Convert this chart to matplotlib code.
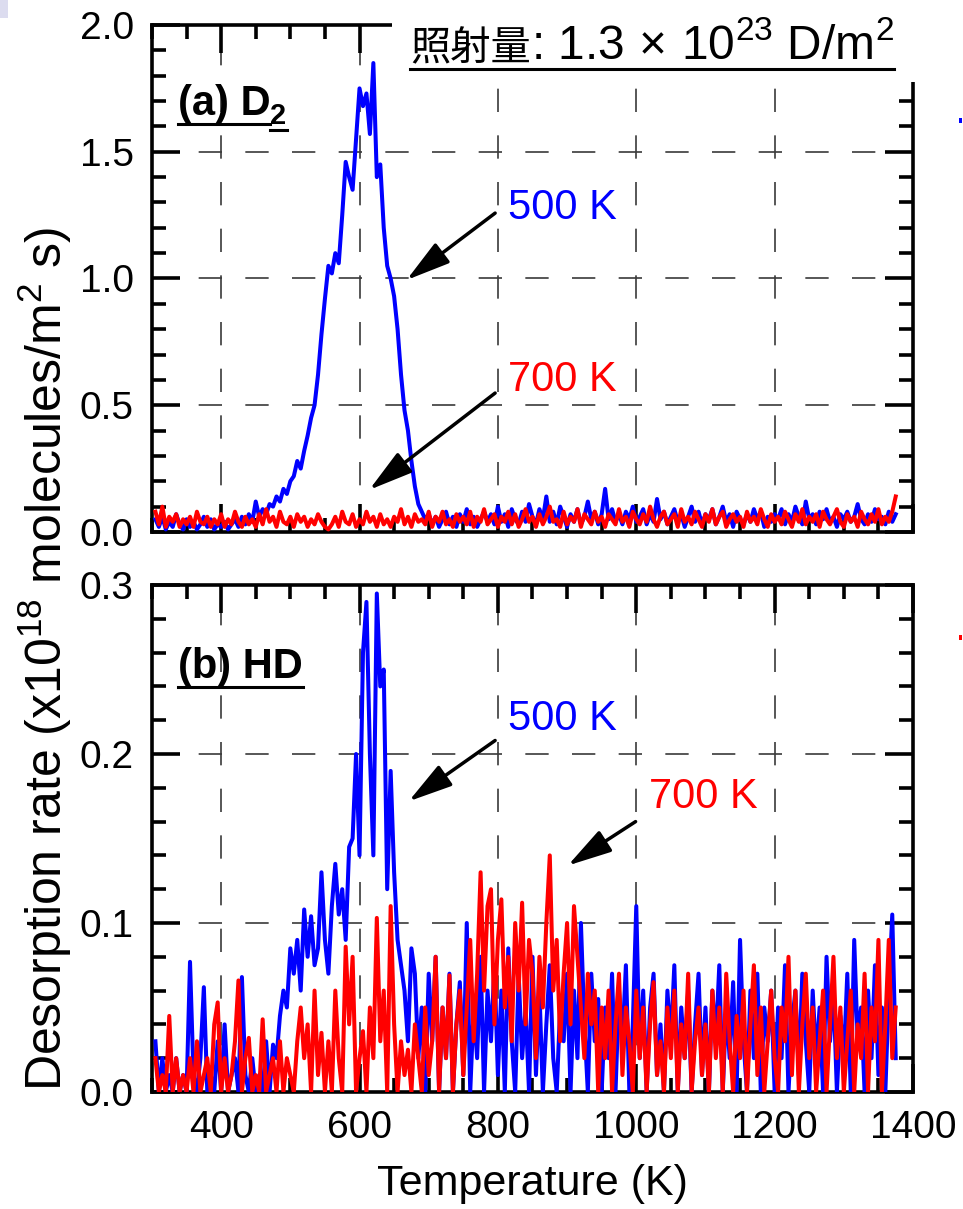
import numpy as np
import matplotlib
matplotlib.use('Agg')
import matplotlib.pyplot as plt
from matplotlib.lines import Line2D
from matplotlib.patches import Rectangle
from matplotlib.text import Annotation
from matplotlib.ticker import MultipleLocator, FormatStrFormatter

plt.rcParams.update({
    'font.family': ['Liberation Sans', 'Noto Sans CJK JP'],
    'mathtext.fontset': 'custom',
    'mathtext.rm': 'Liberation Sans',
    'mathtext.it': 'Liberation Sans:italic',
    'mathtext.bf': 'Liberation Sans:bold',
    'font.size': 28,
    'axes.linewidth': 2.6,
})

BLUE = '#0000ff'
RED = '#ff0000'

# temperature grid (K), 5 K steps from 305 to 1375
temps = np.arange(305, 1376, 5)

# (a) D2 desorption rate, x1e18 molecules/m^2 s
d2_500 = [
    0.05, 0.02, 0.06, 0.01, 0.04, 0.02, 0.07, 0.03, 0.01, 0.05,
    0.02, 0.04, 0.01, 0.03, 0.06, 0.02, 0.05, 0.01, 0.03, 0.02,
    0.04, 0.01, 0.03, 0.05, 0.02, 0.06, 0.03, 0.07, 0.04, 0.12,
    0.06, 0.09, 0.07, 0.11, 0.10, 0.14, 0.12, 0.17, 0.15, 0.20,
    0.22, 0.28, 0.25, 0.32, 0.38, 0.45, 0.50, 0.62, 0.78, 0.92,
    1.05, 1.02, 1.10, 1.06, 1.25, 1.46, 1.40, 1.35, 1.55, 1.75,
    1.68, 1.73, 1.57, 1.85, 1.40, 1.45, 1.20, 1.05, 1.00, 0.93,
    0.80, 0.62, 0.48, 0.40, 0.28, 0.18, 0.11, 0.08, 0.05, 0.07,
    0.03, 0.06, 0.02, 0.05, 0.08, 0.03, 0.06, 0.02, 0.07, 0.04,
    0.09, 0.03, 0.06, 0.02, 0.05, 0.08, 0.04, 0.07, 0.03, 0.10,
    0.04, 0.07, 0.02, 0.09, 0.05, 0.03, 0.08, 0.04, 0.11, 0.06,
    0.03, 0.09, 0.05, 0.14, 0.04, 0.08, 0.03, 0.10, 0.06, 0.02,
    0.07, 0.04, 0.09, 0.03, 0.06, 0.12, 0.05, 0.08, 0.03, 0.07,
    0.17, 0.05, 0.09, 0.04, 0.07, 0.03, 0.08, 0.05, 0.10, 0.04,
    0.06, 0.09, 0.03, 0.07, 0.04, 0.13, 0.05, 0.08, 0.03, 0.06,
    0.09, 0.04, 0.07, 0.02, 0.06, 0.10, 0.04, 0.08, 0.03, 0.07,
    0.05, 0.09, 0.03, 0.06, 0.10, 0.04, 0.07, 0.02, 0.08, 0.05,
    0.03, 0.07, 0.04, 0.09, 0.05, 0.08, 0.02, 0.06, 0.04, 0.07,
    0.05, 0.09, 0.03, 0.07, 0.04, 0.10, 0.06, 0.03, 0.12, 0.05,
    0.07, 0.03, 0.08, 0.05, 0.09, 0.04, 0.06, 0.02, 0.07, 0.05,
    0.08, 0.04, 0.06, 0.11, 0.05, 0.03, 0.07, 0.04, 0.09, 0.05,
    0.06, 0.03, 0.08, 0.04, 0.07,
]
d2_700 = [
    0.08, 0.03, 0.10, 0.02, 0.06, 0.04, 0.07, 0.02, 0.05, 0.03,
    0.06, 0.02, 0.08, 0.04, 0.03, 0.06, 0.02, 0.05, 0.03, 0.07,
    0.02, 0.05, 0.03, 0.08, 0.04, 0.02, 0.06, 0.03, 0.05, 0.02,
    0.07, 0.03, 0.09, 0.04, 0.06, 0.02, 0.08, 0.04, 0.03, 0.06,
    0.02, 0.07, 0.04, 0.06, 0.02, 0.05, 0.03, 0.07, 0.04, 0.02,
    0.01, 0.03, 0.06, 0.02, 0.08, 0.04, 0.03, 0.07, 0.02, 0.05,
    0.03, 0.08, 0.04, 0.06, 0.02, 0.07, 0.03, 0.05, 0.02, 0.06,
    0.04, 0.09, 0.03, 0.06, 0.02, 0.07, 0.04, 0.05, 0.03, 0.08,
    0.02, 0.06, 0.04, 0.08, 0.03, 0.05, 0.02, 0.07, 0.04, 0.06,
    0.03, 0.08, 0.02, 0.06, 0.04, 0.09, 0.03, 0.05, 0.07, 0.02,
    0.06, 0.04, 0.08, 0.03, 0.07, 0.02, 0.05, 0.09, 0.04, 0.06,
    0.02, 0.07, 0.03, 0.06, 0.10, 0.04, 0.05, 0.02, 0.08, 0.03,
    0.06, 0.04, 0.09, 0.02, 0.07, 0.05, 0.03, 0.08, 0.04, 0.06,
    0.02, 0.07, 0.05, 0.03, 0.09, 0.04, 0.06, 0.02, 0.08, 0.05,
    0.03, 0.07, 0.04, 0.10, 0.05, 0.02, 0.06, 0.08, 0.03, 0.05,
    0.07, 0.02, 0.09, 0.04, 0.06, 0.03, 0.08, 0.05, 0.02, 0.07,
    0.04, 0.09, 0.03, 0.06, 0.08, 0.02, 0.05, 0.07, 0.04, 0.06,
    0.02, 0.08, 0.04, 0.06, 0.03, 0.09, 0.05, 0.02, 0.07, 0.04,
    0.06, 0.03, 0.08, 0.05, 0.02, 0.07, 0.04, 0.09, 0.03, 0.06,
    0.04, 0.07, 0.02, 0.08, 0.05, 0.03, 0.06, 0.09, 0.04, 0.02,
    0.07, 0.04, 0.06, 0.02, 0.08, 0.05, 0.03, 0.07, 0.04, 0.09,
    0.03, 0.06, 0.04, 0.08, 0.14,
]

# (b) HD desorption rate, x1e18 molecules/m^2 s
hd_500 = [
    0.03, 0.0, 0.02, 0.0, 0.01, 0.0, 0.02, 0.0, 0.01, 0.0,
    0.077, 0.01, 0.0, 0.02, 0.062, 0.0, 0.01, 0.0, 0.03, 0.0,
    0.04, 0.0, 0.01, 0.02, 0.0, 0.068, 0.01, 0.0, 0.02, 0.0,
    0.01, 0.0, 0.03, 0.0, 0.028, 0.02, 0.045, 0.06, 0.05, 0.085,
    0.07, 0.09, 0.06, 0.108, 0.08, 0.104, 0.075, 0.085, 0.13, 0.09,
    0.07, 0.11, 0.135, 0.105, 0.12, 0.09, 0.145, 0.15, 0.20, 0.14,
    0.26, 0.29, 0.20, 0.14, 0.295, 0.24, 0.25, 0.12, 0.19, 0.13,
    0.09, 0.075, 0.06, 0.03, 0.085, 0.07, 0.02, 0.05, 0.0, 0.07,
    0.03, 0.08, 0.0, 0.05, 0.02, 0.07, 0.0, 0.04, 0.065, 0.01,
    0.10, 0.0, 0.05, 0.02, 0.08, 0.0, 0.06, 0.03, 0.075, 0.01,
    0.06, 0.0, 0.085, 0.03, 0.0, 0.07, 0.02, 0.05, 0.0, 0.08,
    0.01, 0.06, 0.0, 0.04, 0.075, 0.02, 0.0, 0.05, 0.03, 0.07,
    0.0, 0.06, 0.02, 0.10, 0.04, 0.0, 0.07, 0.03, 0.055, 0.0,
    0.05, 0.02, 0.07, 0.0, 0.06, 0.03, 0.075, 0.0, 0.04, 0.11,
    0.02, 0.06, 0.0, 0.05, 0.07, 0.01, 0.04, 0.0, 0.06, 0.03,
    0.075, 0.0, 0.05, 0.02, 0.06, 0.0, 0.04, 0.07, 0.01, 0.05,
    0.0, 0.06, 0.03, 0.075, 0.0, 0.05, 0.02, 0.065, 0.0, 0.09,
    0.03, 0.0, 0.06, 0.02, 0.07, 0.0, 0.05, 0.03, 0.06, 0.0,
    0.05, 0.02, 0.075, 0.0, 0.04, 0.06, 0.01, 0.07, 0.03, 0.0,
    0.06, 0.02, 0.05, 0.0, 0.08, 0.03, 0.06, 0.0, 0.045, 0.02,
    0.07, 0.0, 0.09, 0.03, 0.05, 0.0, 0.06, 0.02, 0.075, 0.01,
    0.05, 0.0, 0.06, 0.105, 0.02,
]
hd_700 = [
    0.02, 0.0, 0.01, 0.0, 0.045, 0.0, 0.02, 0.0, 0.01, 0.0,
    0.02, 0.0, 0.03, 0.0, 0.01, 0.02, 0.0, 0.04, 0.053, 0.0,
    0.02, 0.0, 0.01, 0.03, 0.066, 0.0, 0.02, 0.032, 0.0, 0.01,
    0.0, 0.043, 0.0, 0.01, 0.02, 0.0, 0.03, 0.0, 0.02, 0.01,
    0.0, 0.03, 0.05, 0.02, 0.04, 0.0, 0.06, 0.01, 0.035, 0.0,
    0.03, 0.0, 0.06, 0.02, 0.0, 0.086, 0.04, 0.08, 0.0, 0.02,
    0.036, 0.0, 0.05, 0.02, 0.103, 0.03, 0.06, 0.0, 0.11, 0.04,
    0.0, 0.03, 0.01, 0.025, 0.0, 0.04, 0.02, 0.0, 0.05, 0.01,
    0.03, 0.08, 0.0, 0.05, 0.02, 0.069, 0.0, 0.04, 0.06, 0.01,
    0.05, 0.09, 0.03, 0.07, 0.13, 0.06, 0.11, 0.12, 0.04, 0.09,
    0.114, 0.05, 0.08, 0.03, 0.10, 0.06, 0.112, 0.04, 0.09, 0.07,
    0.02, 0.08, 0.05, 0.10, 0.14, 0.06, 0.09, 0.03, 0.07, 0.10,
    0.04, 0.11, 0.08, 0.05, 0.02, 0.07, 0.04, 0.06, 0.0, 0.05,
    0.02, 0.06, 0.0, 0.04, 0.07, 0.01, 0.05, 0.03, 0.0, 0.06,
    0.02, 0.05, 0.0, 0.04, 0.065, 0.01, 0.03, 0.0, 0.05, 0.02,
    0.06, 0.0, 0.04, 0.02, 0.07, 0.0, 0.03, 0.05, 0.01, 0.04,
    0.0, 0.06, 0.02, 0.05, 0.0, 0.07, 0.03, 0.0, 0.045, 0.02,
    0.06, 0.0, 0.04, 0.075, 0.01, 0.05, 0.0, 0.03, 0.06, 0.02,
    0.0, 0.05, 0.03, 0.08, 0.01, 0.06, 0.0, 0.04, 0.07, 0.02,
    0.05, 0.0, 0.03, 0.06, 0.0, 0.04, 0.08, 0.02, 0.05, 0.0,
    0.03, 0.06, 0.0, 0.04, 0.02, 0.07, 0.0, 0.05, 0.03, 0.09,
    0.0, 0.04, 0.09, 0.02, 0.05,
]

fig = plt.figure(figsize=(9.63, 12.09), dpi=100)
ax1 = fig.add_axes([0.1578, 0.5600, 0.7903, 0.4193])
ax2 = fig.add_axes([0.1578, 0.0968, 0.7903, 0.4193])

for ax in (ax1, ax2):
    ax.set_xlim(300, 1400)
    ax.xaxis.set_major_locator(MultipleLocator(200))
    ax.xaxis.set_minor_locator(MultipleLocator(50))
    ax.tick_params(which='both', direction='in', top=True, right=True,
                   width=2.6, labelsize=28, pad=13)
    ax.tick_params(which='major', length=20)
    ax.tick_params(which='minor', length=10)
    ax.yaxis.set_major_formatter(FormatStrFormatter('%.1f'))
    ax.grid(True, which='major', color='#3a3a3a', lw=1.2, linestyle=(0, (14, 14)))
    ax.set_axisbelow(True)

ax1.set_ylim(0, 2.0)
ax1.yaxis.set_major_locator(MultipleLocator(0.5))
ax1.yaxis.set_minor_locator(MultipleLocator(0.1))
ax1.tick_params(labelbottom=False)

ax2.set_ylim(0, 0.3)
ax2.yaxis.set_major_locator(MultipleLocator(0.1))
ax2.yaxis.set_minor_locator(MultipleLocator(0.02))

ax1.plot(temps, d2_500, color=BLUE, lw=2.9, zorder=3)
ax1.plot(temps, d2_700, color=RED, lw=2.9, zorder=4)
ax2.plot(temps, hd_500, color=BLUE, lw=2.9, zorder=3)
ax2.plot(temps, hd_700, color=RED, lw=2.9, zorder=4)

ax2.set_xlabel('Temperature (K)', fontsize=31, labelpad=13)
fig.text(0.047, 0.455, 'Desorption rate (x10$^{18}$ molecules/m$^2$ s)',
         rotation=90, ha='center', va='center', fontsize=36)

arrow = dict(arrowstyle='-|>,head_length=0.9,head_width=0.25', color='k',
             lw=2.5, mutation_scale=30, shrinkA=0, shrinkB=0)
ax1.annotate('', xy=(668, 0.994), xytext=(796, 1.258), arrowprops=arrow, zorder=6)
ax1.text(815, 1.28, '500 K', color=BLUE, fontsize=30, va='center', ha='left')
ax1.annotate('', xy=(614, 0.166), xytext=(796, 0.548), arrowprops=arrow, zorder=6)
ax1.text(815, 0.60, '700 K', color=RED, fontsize=30, va='center', ha='left')
ax2.annotate('', xy=(671, 0.172), xytext=(796, 0.208), arrowprops=arrow, zorder=6)
ax2.text(815, 0.221, '500 K', color=BLUE, fontsize=30, va='center', ha='left')
ax2.annotate('', xy=(901, 0.134), xytext=(999, 0.160), arrowprops=arrow, zorder=6)
ax2.text(1019, 0.1745, '700 K', color=RED, fontsize=30, va='center', ha='left')

# panel labels
la = ax1.text(0.034, 0.822, '(a) D', transform=ax1.transAxes, fontsize=30,
              fontweight='bold', va='baseline', ha='left', zorder=7)
la2 = ax1.annotate('2', xy=(1, 0), xycoords=la, xytext=(0, -4),
                   textcoords='offset points', fontsize=21, fontweight='bold',
                   va='bottom', ha='left', zorder=7)
lb = ax2.text(0.034, 0.817, '(b) HD', transform=ax2.transAxes, fontsize=30,
              fontweight='bold', va='baseline', ha='left', zorder=7)

# fluence note at the top, on white ground that hides the frame
fig.add_artist(Rectangle((392 / 963, 1 - 82 / 1209), 530 / 963, 82 / 1209,
                         transform=fig.transFigure, fc='white', ec='none', zorder=2))
t1 = fig.text(410 / 963, 1 - 60 / 1209, '照射量', family=['Noto Sans CJK JP'],
              fontsize=29, va='baseline', ha='left', zorder=5)
t2 = Annotation(': 1.3$\\,\\times\\,$10$^{23}$ D/m$^2$', xy=(1, 0), xycoords=t1,
                xytext=(0, 0), textcoords='offset points', fontsize=34.5,
                va='bottom', ha='left', zorder=5)
fig.add_artist(t2)

fig.canvas.draw()
renderer = fig.canvas.get_renderer()
inv = fig.transFigure.inverted()


def underline(artists, drop=0.0, lw=2.2):
    bbs = [a.get_window_extent(renderer) for a in artists]
    x0 = min(b.x0 for b in bbs)
    x1 = max(b.x1 for b in bbs)
    y0 = min(b.y0 for b in bbs) - drop
    (fx0, fy), (fx1, _) = inv.transform([(x0, y0), (x1, y0)])
    fig.add_artist(Line2D([fx0, fx1], [fy, fy], transform=fig.transFigure,
                          color='k', lw=lw, zorder=8))


underline([la], drop=0)
underline([la2], drop=0)
underline([lb], drop=0)
underline([t1, t2], drop=0)

# small leftovers at the page edge
fig.add_artist(Rectangle((0, 1 - 18 / 1209), 8 / 963, 18 / 1209,
                         transform=fig.transFigure, fc='#dcdcef', ec='none'))
fig.add_artist(Rectangle((959 / 963, 1 - 123 / 1209), 3 / 963, 5 / 1209,
                         transform=fig.transFigure, fc=BLUE, ec='none'))
fig.add_artist(Rectangle((959 / 963, 1 - 640 / 1209), 3 / 963, 5 / 1209,
                         transform=fig.transFigure, fc=RED, ec='none'))

fig.savefig('out.png', dpi=100)
